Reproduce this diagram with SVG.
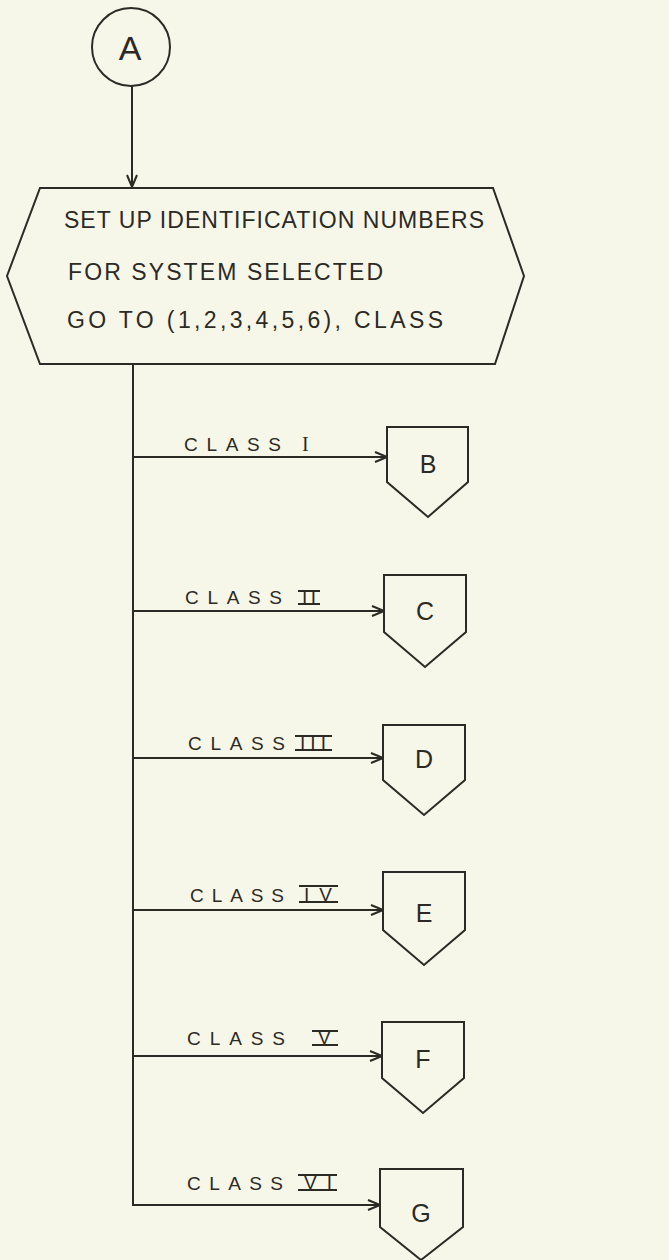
<svg xmlns="http://www.w3.org/2000/svg" width="669" height="1260" viewBox="0 0 669 1260">
<style>
.bg{fill:#f7f7e9}
.sh{fill:none;stroke:#2b2a25;stroke-width:2;stroke-linejoin:miter}
.ln{fill:none;stroke:#2b2a25;stroke-width:2}
.bar{stroke:#2b2a25;stroke-width:2}
.t{font-family:"Liberation Sans",Arial,sans-serif;fill:#2b2a25;font-size:23px}
.lb{font-family:"Liberation Sans",Arial,sans-serif;fill:#2b2a25;font-size:19px}
.rn{font-family:"Liberation Sans",Arial,sans-serif;fill:#2b2a25;font-size:19px}
.big{font-family:"Liberation Sans",Arial,sans-serif;fill:#2b2a25;font-size:25px;text-anchor:middle}
</style>
<defs>
<marker id="ah" markerUnits="userSpaceOnUse" markerWidth="14" markerHeight="12" refX="13" refY="6" orient="auto">
<path d="M1,1 L13,6 L1,11" fill="none" stroke="#2b2a25" stroke-width="2"/>
</marker>
</defs>
<rect class="bg" x="0" y="0" width="669" height="1260"/>
<g id="connectors">
<line class="ln" x1="132" y1="86" x2="132" y2="187" marker-end="url(#ah)"/>
<polyline class="ln" points="133,364 133,1205 380,1205" marker-end="url(#ah)"/>
<line class="ln" x1="133" y1="457" x2="387" y2="457" marker-end="url(#ah)"/>
<line class="ln" x1="133" y1="611" x2="384" y2="611" marker-end="url(#ah)"/>
<line class="ln" x1="133" y1="758" x2="383" y2="758" marker-end="url(#ah)"/>
<line class="ln" x1="133" y1="910" x2="383" y2="910" marker-end="url(#ah)"/>
<line class="ln" x1="133" y1="1056" x2="382" y2="1056" marker-end="url(#ah)"/>
<text class="lb" x="184" y="451" textLength="97" lengthAdjust="spacing">CLASS</text>
<text class="rn" x="302" y="451" style="font-family:'Liberation Serif',serif;font-size:20px">I</text>
<text class="lb" x="185" y="604" textLength="97" lengthAdjust="spacing">CLASS</text>
<text class="rn" x="302" y="604" textLength="14" lengthAdjust="spacing">II</text>
<line class="bar" x1="298" y1="591" x2="320" y2="591"/><line class="bar" x1="298" y1="604" x2="320" y2="604"/>
<text class="lb" x="188" y="750" textLength="97" lengthAdjust="spacing">CLASS</text>
<text class="rn" x="300" y="750" textLength="26" lengthAdjust="spacing">III</text>
<line class="bar" x1="295" y1="736" x2="332" y2="736"/><line class="bar" x1="295" y1="750" x2="332" y2="750"/>
<text class="lb" x="190" y="902" textLength="94" lengthAdjust="spacing">CLASS</text>
<text class="rn" x="304" y="901" textLength="28" lengthAdjust="spacing">IV</text>
<line class="bar" x1="299" y1="886" x2="338" y2="886"/><line class="bar" x1="299" y1="902" x2="338" y2="902"/>
<text class="lb" x="187" y="1045" textLength="98" lengthAdjust="spacing">CLASS</text>
<text class="rn" x="318" y="1044">V</text>
<line class="bar" x1="312" y1="1031" x2="338" y2="1031"/><line class="bar" x1="312" y1="1045" x2="338" y2="1045"/>
<text class="lb" x="187" y="1190" textLength="96" lengthAdjust="spacing">CLASS</text>
<text class="rn" x="304" y="1189" textLength="28" lengthAdjust="spacing">VI</text>
<line class="bar" x1="298" y1="1175" x2="337" y2="1175"/><line class="bar" x1="298" y1="1190" x2="337" y2="1190"/>
</g>
<g id="nodeA">
<circle class="sh" cx="131" cy="47" r="39"/>
<text class="big" x="130" y="60" style="font-size:34px">A</text>
</g>
<g id="setup">
<polygon class="sh" points="40,188 493,188 524,276 495,364 40,364 7,276"/>
<text class="t" x="64" y="228" textLength="420" lengthAdjust="spacing">SET UP IDENTIFICATION NUMBERS</text>
<text class="t" x="68" y="280" textLength="315" lengthAdjust="spacing">FOR SYSTEM SELECTED</text>
<text class="t" x="67" y="328" textLength="376" lengthAdjust="spacing">GO TO (1,2,3,4,5,6), CLASS</text>
</g>
<g id="nodeB">
<polygon class="sh" points="387,427 468,427 468,482 428,517 387,482"/>
<text class="big" x="428" y="473">B</text>
</g>
<g id="nodeC">
<polygon class="sh" points="384,575 466,575 466,632 425,667 384,632"/>
<text class="big" x="425" y="620">C</text>
</g>
<g id="nodeD">
<polygon class="sh" points="383,725 465,725 465,780 424,815 383,780"/>
<text class="big" x="424" y="768">D</text>
</g>
<g id="nodeE">
<polygon class="sh" points="383,872 465,872 465,930 424,965 383,930"/>
<text class="big" x="424" y="922">E</text>
</g>
<g id="nodeF">
<polygon class="sh" points="382,1022 464,1022 464,1078 423,1113 382,1078"/>
<text class="big" x="423" y="1068">F</text>
</g>
<g id="nodeG">
<polygon class="sh" points="380,1169 463,1169 463,1227 421,1260 380,1227"/>
<text class="big" x="421" y="1222">G</text>
</g>
</svg>
